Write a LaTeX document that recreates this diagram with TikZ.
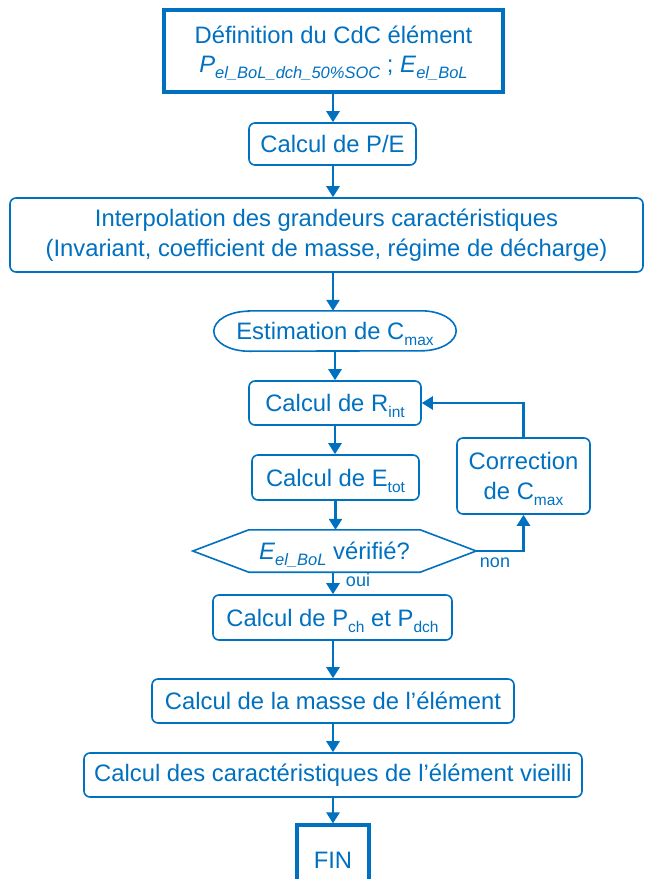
\documentclass[tikz,border=0pt]{standalone}
\usepackage{fontspec}
\setmainfont{Liberation Sans}
\usetikzlibrary{arrows.meta,calc}
\definecolor{cblue}{RGB}{0,112,192}
\newcommand{\sbs}[1]{\raisebox{-6pt}[0pt][0pt]{\fontsize{15.5}{16}\selectfont #1}}
\newcommand{\isbs}[1]{\raisebox{-6pt}[0pt][0pt]{\fontsize{16.5}{17}\selectfont\itshape #1}}
\begin{document}
\begin{tikzpicture}[x=1pt,y=-1pt,
  every node/.style={text=cblue, font=\fontsize{23.8}{29.5}\selectfont, inner sep=0pt, align=center},
  bx/.style={draw=cblue, line width=1.6pt, rounded corners=6pt},
  thickbx/.style={draw=cblue, line width=3.2pt},
  shp/.style={draw=cblue, line width=1.6pt},
  arr/.style={draw=cblue, line width=2.5pt, -{Triangle[width=13pt,length=11pt]}},
  lbl/.style={font=\fontsize{18}{20}\selectfont}]
\useasboundingbox (0,0) rectangle (645,879);
\clip (0,0) rectangle (645,879);

\node[thickbx, minimum width=339, minimum height=82] (top) at (333.5,51)
  {Définition du CdC élément\\ \textit{P}\isbs{el\_BoL\_dch\_50\%SOC} ; \textit{E}\isbs{el\_BoL}};
\node[bx, minimum width=167, minimum height=42] (pe) at (332.5,144) {Calcul de P/E};
\node[bx, minimum width=633, minimum height=74] (interp) at (326.5,235)
  {Interpolation des grandeurs caractéristiques\\(Invariant, coefficient de masse, régime de décharge)};
\node[minimum width=242, minimum height=40] (est) at (335,331) {Estimation de C\sbs{max}};
\draw[shp] ([xshift=35pt]est.north west) -- ([xshift=-35pt]est.north east)
  arc[start angle=90, end angle=-90, x radius=35pt, y radius=20pt]
  -- ([xshift=35pt]est.south west)
  arc[start angle=270, end angle=90, x radius=35pt, y radius=20pt] -- cycle;
\node[bx, minimum width=172, minimum height=44] (rint) at (335,403) {Calcul de R\sbs{int}};
\node[bx, minimum width=167, minimum height=45] (etot) at (335.5,477.5) {Calcul de E\sbs{tot}};
\node[minimum width=283, minimum height=42] (dec) at (334.5,551) {\textit{E}\isbs{el\_BoL} vérifié?};
\draw[shp] (dec.west) -- ([xshift=56pt]dec.north west) -- ([xshift=-56pt]dec.north east)
  -- (dec.east) -- ([xshift=-56pt]dec.south east) -- ([xshift=56pt]dec.south west) -- cycle;
\node[bx, minimum width=133, minimum height=76] (corr) at (523.5,476) {Correction\\de C\sbs{max}};
\node[bx, minimum width=239, minimum height=45] (pch) at (332.5,617.5) {Calcul de P\sbs{ch} et P\sbs{dch}};
\node[bx, minimum width=362, minimum height=44] (masse) at (333,701) {Calcul de la masse de l’élément};
\node[bx, minimum width=498, minimum height=44] (vieil) at (333,775) {Calcul des caractéristiques de l’élément vieilli};
\node[thickbx, minimum width=72, minimum height=70] (fin) at (333,860) {FIN};

\node[lbl] (non) at (495,563) {non};
\node[lbl] (oui) at (358,580) {oui};

\draw[arr] (top.south -| fin.north) -- (pe.north -| fin.north);
\draw[arr] (pe.south -| fin.north) -- (interp.north -| fin.north);
\draw[arr] (interp.south -| fin.north) -- (est.north -| fin.north);
\draw[arr] (est.south -| rint.south) -- (rint.north);
\draw[arr] (rint.south) -- (rint.south |- etot.north);
\draw[arr] (etot.south) -- (etot.south |- dec.north);
\draw[arr] (dec.south -| fin.north) -- (pch.north -| fin.north);
\draw[arr] (pch.south -| fin.north) -- (masse.north);
\draw[arr] (masse.south) -- (vieil.north);
\draw[arr] (vieil.south) -- (fin.north);
\draw[arr] (dec.east) -| (corr.south);
\draw[arr] (corr.north) |- (rint.east);
\end{tikzpicture}
\end{document}
